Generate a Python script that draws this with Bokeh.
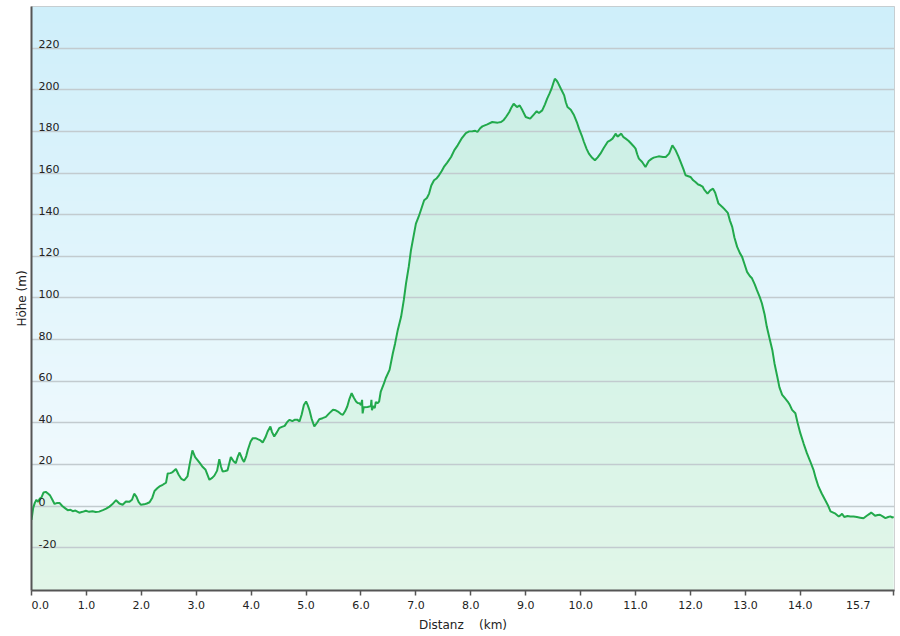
import numpy as np
from bokeh.plotting import figure
from bokeh.models import FixedTicker
from bokeh.core.properties import value
from bokeh.embed import file_html
from bokeh.resources import INLINE

distance_km = [
    0.00, 0.03, 0.06, 0.09, 0.12, 0.15, 0.18, 0.22, 0.26, 0.30, 0.34, 0.38, 0.42, 0.47, 0.51, 0.56,
    0.61, 0.66, 0.71, 0.75, 0.80, 0.87, 0.93, 0.99, 1.05, 1.11, 1.17, 1.23, 1.30, 1.36, 1.42, 1.47,
    1.54, 1.60, 1.66, 1.72, 1.78, 1.83, 1.87, 1.91, 1.95, 1.99, 2.05, 2.10, 2.15, 2.20, 2.24, 2.29,
    2.33, 2.39, 2.45, 2.48, 2.53, 2.57, 2.63, 2.68, 2.73, 2.78, 2.84, 2.88, 2.93, 2.98, 3.02, 3.07,
    3.11, 3.17, 3.24, 3.29, 3.33, 3.38, 3.42, 3.45, 3.48, 3.53, 3.57, 3.63, 3.68, 3.72, 3.76, 3.79,
    3.84, 3.87, 3.91, 3.94, 3.99, 4.03, 4.08, 4.12, 4.17, 4.21, 4.26, 4.30, 4.35, 4.38, 4.42, 4.47,
    4.51, 4.56, 4.61, 4.66, 4.70, 4.75, 4.79, 4.84, 4.88, 4.92, 4.96, 5.00, 5.03, 5.06, 5.10, 5.15,
    5.20, 5.24, 5.30, 5.36, 5.42, 5.49, 5.54, 5.58, 5.63, 5.67, 5.71, 5.75, 5.79, 5.83, 5.87, 5.91,
    5.94, 5.97, 6.00, 6.02, 6.03, 6.05, 6.12, 6.18, 6.19, 6.20, 6.22, 6.25, 6.27, 6.30, 6.33, 6.36,
    6.42, 6.45, 6.52, 6.58, 6.62, 6.67, 6.73, 6.78, 6.82, 6.87, 6.91, 6.96, 7.00, 7.05, 7.09, 7.15,
    7.20, 7.24, 7.28, 7.33, 7.38, 7.42, 7.47, 7.51, 7.57, 7.64, 7.70, 7.76, 7.83, 7.91, 7.97, 8.03,
    8.08, 8.12, 8.17, 8.21, 8.30, 8.39, 8.49, 8.55, 8.60, 8.64, 8.70, 8.74, 8.78, 8.84, 8.89, 8.94,
    9.00, 9.08, 9.15, 9.20, 9.24, 9.30, 9.35, 9.39, 9.43, 9.47, 9.50, 9.53, 9.56, 9.59, 9.64, 9.70,
    9.73, 9.76, 9.82, 9.88, 9.93, 9.97, 10.02, 10.06, 10.11, 10.15, 10.21, 10.26, 10.31, 10.36, 10.42, 10.49,
    10.53, 10.58, 10.64, 10.67, 10.70, 10.74, 10.78, 10.82, 10.87, 10.91, 10.96, 11.00, 11.03, 11.06, 11.12, 11.18,
    11.24, 11.29, 11.33, 11.42, 11.50, 11.55, 11.61, 11.67, 11.73, 11.78, 11.82, 11.87, 11.91, 12.00, 12.05, 12.09,
    12.14, 12.18, 12.22, 12.25, 12.31, 12.36, 12.41, 12.45, 12.51, 12.58, 12.61, 12.68, 12.72, 12.76, 12.80, 12.85,
    12.90, 12.94, 12.98, 13.03, 13.08, 13.12, 13.17, 13.21, 13.26, 13.30, 13.35, 13.39, 13.44, 13.49, 13.53, 13.58,
    13.62, 13.67, 13.72, 13.77, 13.81, 13.85, 13.91, 13.95, 14.00, 14.06, 14.12, 14.18, 14.24, 14.28, 14.33, 14.39,
    14.45, 14.50, 14.55, 14.60, 14.64, 14.70, 14.73, 14.76, 14.80, 14.86, 14.91, 14.97, 15.03, 15.09, 15.15, 15.21,
    15.26, 15.29, 15.33, 15.36, 15.41, 15.45, 15.50, 15.55, 15.60, 15.64, 15.67, 15.70,
]
elevation_m = [
    -6.6, -1.0, 1.5, 3.0, 2.0, 3.5, 4.0, 6.5, 6.8, 6.0, 5.0, 3.0, 1.0, 1.5, 1.5, 0.0,
    -1.0, -2.0, -1.8, -2.5, -2.2, -3.2, -2.8, -2.3, -2.8, -2.5, -2.9, -2.7, -2.0, -1.3, -0.3, 0.8,
    2.8, 1.2, 0.6, 2.2, 2.0, 3.0, 5.9, 4.5, 2.0, 0.6, 0.8, 1.2, 1.8, 4.0, 7.2, 8.5,
    9.4, 10.2, 11.2, 15.6, 15.8, 16.3, 17.8, 15.0, 13.0, 12.3, 14.2, 20.0, 26.7, 23.5, 22.2, 20.5,
    19.0, 17.4, 12.6, 13.5, 14.6, 17.0, 22.5, 19.0, 16.6, 16.8, 17.2, 23.5, 21.5, 20.6, 24.0, 25.7,
    22.5, 21.2, 24.0, 27.0, 31.0, 32.6, 32.6, 32.1, 31.5, 30.5, 33.0, 35.8, 38.2, 35.5, 33.4, 35.5,
    37.4, 38.0, 38.5, 40.5, 41.4, 40.8, 41.4, 41.5, 40.6, 44.0, 48.5, 50.2, 48.5, 46.2, 42.0, 38.2,
    40.0, 41.7, 42.2, 42.8, 44.5, 46.2, 46.0, 45.4, 44.3, 43.8, 45.5, 47.8, 51.5, 54.2, 52.0, 50.2,
    49.5, 49.4, 48.5, 51.0, 44.5, 47.5, 47.6, 48.0, 51.0, 46.0, 48.0, 47.0, 50.0, 49.4, 50.2, 55.0,
    59.0, 61.4, 65.4, 73.4, 78.0, 84.6, 90.9, 99.0, 107.0, 115.0, 122.9, 130.0, 135.7, 139.0, 142.1, 146.9,
    148.0, 150.1, 154.0, 156.5, 157.5, 158.9, 161.0, 162.9, 165.0, 167.7, 171.0, 173.3, 176.5, 179.2, 180.0, 180.1,
    180.3, 179.7, 181.5, 182.4, 183.4, 184.5, 184.2, 184.5, 185.5, 186.9, 189.3, 191.5, 193.3, 191.7, 192.5, 190.1,
    186.9, 186.1, 188.2, 189.7, 188.8, 190.1, 193.0, 195.7, 198.0, 200.5, 203.0, 205.3, 204.5, 203.2, 200.5, 197.3,
    194.0, 191.7, 190.4, 187.7, 184.5, 181.3, 178.0, 174.9, 171.5, 169.3, 167.3, 166.1, 167.5, 169.3, 172.0, 174.9,
    175.5, 176.5, 178.9, 177.5, 178.1, 178.9, 177.2, 176.5, 175.5, 174.4, 173.0, 171.7, 169.0, 166.9, 165.3, 162.9,
    165.8, 166.8, 167.4, 168.0, 167.7, 167.7, 169.3, 173.3, 170.9, 168.0, 165.3, 162.0, 158.9, 158.1, 156.5, 155.7,
    154.5, 154.1, 153.5, 152.0, 150.1, 151.7, 152.5, 150.5, 145.3, 143.7, 142.9, 140.8, 137.0, 134.1, 129.0, 124.5,
    121.5, 119.7, 116.5, 112.5, 110.5, 109.4, 106.5, 103.7, 100.5, 97.4, 92.0, 86.1, 80.5, 75.0, 68.5, 62.2,
    57.0, 53.4, 51.8, 50.2, 48.5, 46.2, 44.6, 40.0, 35.0, 30.0, 25.4, 21.5, 17.4, 13.5, 9.4, 6.0,
    3.0, 0.5, -2.6, -3.2, -3.7, -5.0, -4.5, -3.7, -5.3, -4.8, -5.0, -5.1, -5.3, -5.6, -5.9, -4.7,
    -3.8, -3.1, -4.0, -4.7, -4.3, -4.2, -5.0, -5.8, -5.3, -5.0, -5.5, -5.3,
]

x_ticks = [0, 1, 2, 3, 4, 5, 6, 7, 8, 9, 10, 11, 12, 13, 14, 15.7]
x_tick_labels = ["0.0", "1.0", "2.0", "3.0", "4.0", "5.0", "6.0", "7.0", "8.0",
                 "9.0", "10.0", "11.0", "12.0", "13.0", "14.0", "15.7"]
y_ticks = [-20, 0, 20, 40, 60, 80, 100, 120, 140, 160, 180, 200, 220]
y_tick_labels = ["-20", "0", "20", "40", "60", "80", "100", "120", "140",
                 "160", "180", "200", "220"]

X_MAX = 15.715
Y_MIN, Y_MAX = -40.6, 240.0
FONT = "DejaVu Sans"
NBSP = "\u00a0"

p = figure(width=898, height=634, x_range=(0, X_MAX), y_range=(Y_MIN, Y_MAX),
           output_backend="svg", toolbar_location=None,
           min_border_left=31, min_border_right=4, min_border_top=6, min_border_bottom=43)
p.background_fill_color = "white"
p.border_fill_color = "white"
p.outline_line_color = "#c4c4c4"
p.outline_line_width = 1

# vertical gradient background (light blue at top -> near white at bottom)
n = 256
t = np.linspace(0.0, 1.0, n)[:, None]
top_c = np.array([207, 239, 250])
bot_c = np.array([249, 253, 255])
cols = (bot_c * (1 - t) + top_c * t).astype(np.uint8)
img = np.zeros((n, 1), dtype=np.uint32)
view = img.view(dtype=np.uint8).reshape((n, 1, 4))
view[:, 0, 0] = cols[:, 0]
view[:, 0, 1] = cols[:, 1]
view[:, 0, 2] = cols[:, 2]
view[:, 0, 3] = 255
p.image_rgba(image=[img], x=0, y=Y_MIN, dw=X_MAX, dh=Y_MAX - Y_MIN, level="image")

# area under the profile
p.varea(x=distance_km, y1=Y_MIN, y2=elevation_m, fill_color="#bdeec9", fill_alpha=0.4,
        level="image")

# grid
p.xgrid.visible = False
p.ygrid.ticker = FixedTicker(ticks=y_ticks)
p.ygrid.grid_line_color = "#c2cbcf"
p.ygrid.grid_line_width = 1.5

# profile line
p.line(distance_km, elevation_m, line_color="#22a94c", line_width=2)

# y axis (labels drawn inside the plot)
p.yaxis.ticker = FixedTicker(ticks=[])
p.yaxis.axis_label = "Höhe (m)"
p.yaxis.axis_label_text_font = FONT
p.yaxis.axis_label_text_font_size = "12px"
p.yaxis.axis_label_text_font_style = "normal"
p.yaxis.axis_label_text_color = "#222222"
p.yaxis.axis_label_standoff = 3
p.yaxis.major_label_standoff = 0
p.yaxis.major_tick_out = 0
p.yaxis.major_tick_in = 0
p.yaxis.minor_tick_out = 0
p.yaxis.axis_line_color = "#555555"
p.yaxis.axis_line_width = 2

p.text(x=[0] * len(y_ticks), y=y_ticks, text=y_tick_labels, x_offset=7, y_offset=-4,
       text_font=value(FONT), text_font_size="11px", text_color="#222222",
       text_align="left", text_baseline="alphabetic")

# x axis: first label sits right of its tick, last label ends left of its tick
overrides = {tk: lab for tk, lab in zip(x_ticks, x_tick_labels)}
overrides[x_ticks[0]] = NBSP * 5 + x_tick_labels[0]
overrides[x_ticks[-1]] = x_tick_labels[-1] + NBSP * 8
p.xaxis.ticker = FixedTicker(ticks=x_ticks, minor_ticks=[])
p.xaxis.major_label_overrides = overrides
p.xaxis.axis_label = "Distanz" + NBSP * 4 + "(km)"
p.xaxis.axis_label_text_font = FONT
p.xaxis.axis_label_text_font_size = "12px"
p.xaxis.axis_label_text_font_style = "normal"
p.xaxis.axis_label_text_color = "#222222"
p.xaxis.axis_label_standoff = 3
p.xaxis.major_label_text_font = FONT
p.xaxis.major_label_text_font_size = "11px"
p.xaxis.major_label_text_color = "#222222"
p.xaxis.major_label_standoff = 3
p.xaxis.major_tick_out = 5
p.xaxis.major_tick_in = 0
p.xaxis.major_tick_line_color = "#555555"
p.xaxis.major_tick_line_width = 1.5
p.xaxis.axis_line_color = "#555555"
p.xaxis.axis_line_width = 2

open("out.html", "w").write(file_html(p, INLINE))
